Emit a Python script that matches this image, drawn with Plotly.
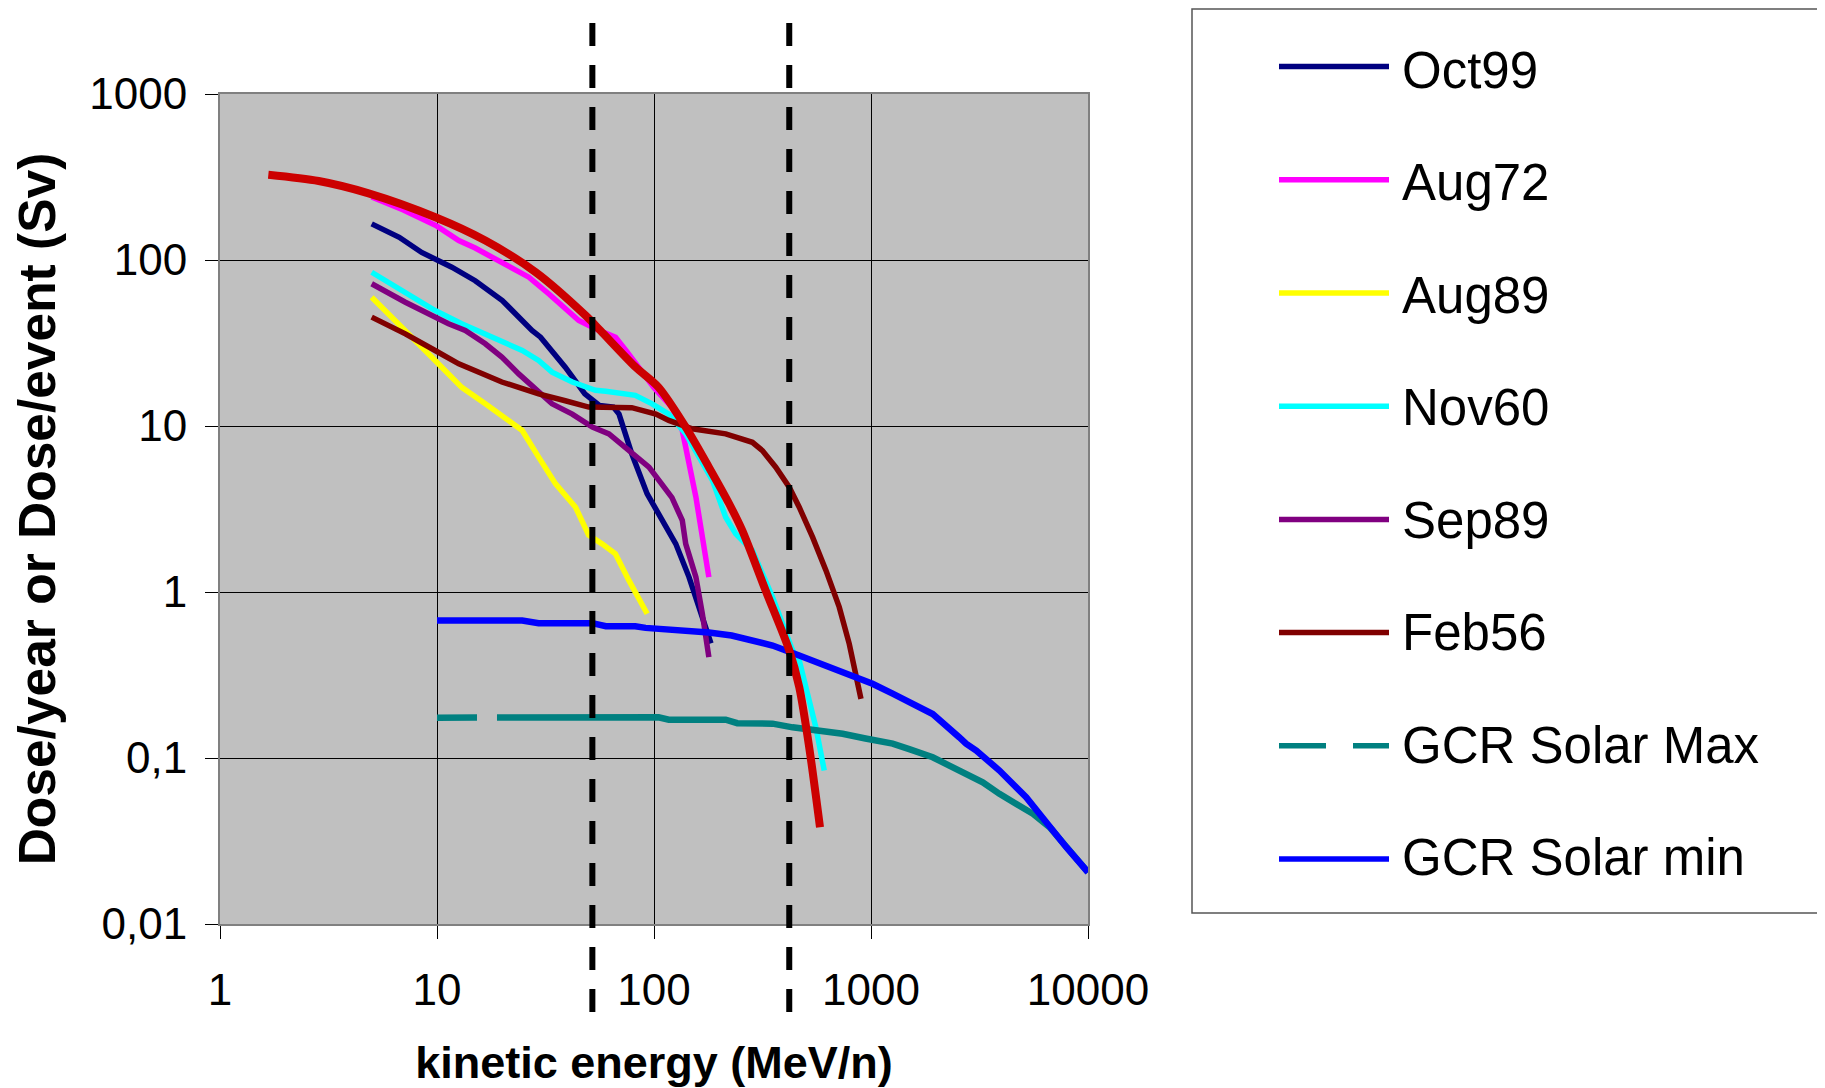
import plotly.graph_objects as go

# ---------------- data ----------------
OCT99_X = [5, 6.7, 8.5, 11.7, 15, 20, 27.4, 30, 39, 48, 56, 65, 69, 79, 93, 109, 126, 145, 161, 183]
OCT99_Y = [165, 137, 111, 90.5, 75, 57, 37.6, 34.3, 22.6, 15.6, 13.3, 13.0, 11.8, 6.8, 3.9, 2.75, 1.95, 1.23, 0.81, 0.49]

AUG72_X = [5, 7, 10, 12.6, 15, 20, 26.5, 33, 45, 55, 66.5, 75, 85, 100, 117, 121, 135, 156, 179]
AUG72_Y = [240, 200, 160, 131, 118, 97, 78.8, 62, 43.2, 38, 34.3, 28, 22.6, 17, 13.6, 13.0, 9.4, 3.73, 1.23]

AUG89_X = [5, 6.7, 8.2, 9.8, 13, 16.7, 21.4, 24.7, 29.4, 35.2, 43.5, 50, 57.6, 66.4, 76.7, 82.3, 93]
AUG89_Y = [59.7, 41.3, 31.3, 24.8, 17.1, 13.6, 10.8, 9.4, 6.49, 4.48, 3.24, 2.2, 1.95, 1.70, 1.17, 0.976, 0.74]

NOV60_X = [5, 7.15, 9.8, 13, 16.7, 20.7, 24.7, 29.4, 33.9, 42, 53.7, 60, 82, 98, 117, 140, 186, 214, 238, 284, 352, 435, 467, 557, 609]
NOV60_Y = [84.4, 64, 49.6, 41.3, 35.9, 32, 28.5, 24.8, 21.1, 18.4, 16.4, 16.2, 15.3, 13.6, 11.8, 9.0, 4.7, 2.82, 2.24, 1.78, 0.93, 0.445, 0.387, 0.153, 0.084]

SEP89_X = [5, 7.15, 11.3, 13.5, 16.7, 19.9, 23.8, 28.5, 33.9, 42, 52, 62, 76.7, 94.8, 121, 135, 140, 156, 167, 179]
SEP89_Y = [71.9, 55.7, 41.3, 37.6, 31.3, 26, 20.6, 16.8, 13.6, 11.8, 9.84, 8.97, 7.11, 5.65, 3.7, 2.7, 1.95, 1.23, 0.74, 0.405]

FEB56_X = [5, 7.15, 9.8, 12.6, 15.6, 19.9, 23.8, 29.4, 39, 50, 79, 102, 117, 150, 214, 238, 284, 316, 364, 420, 467, 538, 620, 714, 794, 899]
FEB56_Y = [45.3, 35.9, 28.5, 23.7, 21.1, 18.4, 17.1, 15.6, 14.2, 13.0, 12.9, 11.8, 10.8, 9.62, 8.97, 8.56, 7.98, 7.11, 5.65, 4.28, 3.24, 2.14, 1.35, 0.81, 0.487, 0.227]

GCRMAX_X = [10, 20, 50, 105, 117, 214, 242, 352, 435, 538, 740, 943, 1258, 1500, 1925, 2296, 2743, 3273, 3908, 4667, 5573, 6653, 7943, 10000]
GCRMAX_Y = [0.175, 0.175, 0.176, 0.176, 0.170, 0.170, 0.162, 0.161, 0.153, 0.148, 0.140, 0.131, 0.122, 0.113, 0.101, 0.090, 0.080, 0.0714, 0.0608, 0.053, 0.0461, 0.0383, 0.029, 0.0205]

GCRMIN_X = [10, 24.7, 29.4, 52, 60, 82, 91.5, 112, 145, 179, 228, 304, 352, 467, 620, 794, 1016, 1258, 1352, 1671, 1925, 2556, 2743, 3055, 3908, 5188, 6653, 7943, 10000]
GCRMIN_Y = [0.673, 0.673, 0.649, 0.649, 0.622, 0.622, 0.608, 0.600, 0.586, 0.57, 0.547, 0.498, 0.476, 0.414, 0.36, 0.314, 0.28, 0.244, 0.232, 0.202, 0.184, 0.133, 0.122, 0.111, 0.084, 0.058, 0.0383, 0.029, 0.0205]

FIT_X = [1.67, 2.85, 4.84, 9.83, 16.7, 28.5, 48.4, 56.6, 82.3, 105, 140, 179, 222, 255, 327, 420, 467, 519, 582]
FIT_Y = [326, 299, 252, 181, 131, 84.4, 46.3, 37.6, 22.6, 17.1, 9.84, 5.65, 3.40, 2.35, 1.02, 0.445, 0.267, 0.116, 0.0383]

ENERGY_MARKERS = [52, 420]

X_TICKS = [1, 10, 100, 1000, 10000]
X_TICK_TEXT = ["1", "10", "100", "1000", "10000"]
Y_TICKS = [0.01, 0.1, 1, 10, 100, 1000]
Y_TICK_TEXT = ["0,01", "0,1", "1", "10", "100", "1000"]

SERIES_NAMES = ["Oct99", "Aug72", "Aug89", "Nov60", "Sep89", "Feb56", "GCR Solar Max", "GCR Solar min"]
SERIES_COLORS = ["#000080", "#FF00FF", "#FFFF00", "#00FFFF", "#800080", "#800000", "#008080", "#0000FF"]
SERIES_X = [OCT99_X, AUG72_X, AUG89_X, NOV60_X, SEP89_X, FEB56_X, GCRMAX_X, GCRMIN_X]
SERIES_Y = [OCT99_Y, AUG72_Y, AUG89_Y, NOV60_Y, SEP89_Y, FEB56_Y, GCRMAX_Y, GCRMIN_Y]

FONT = "Liberation Sans, Arial, sans-serif"

# ---------------- geometry (page has an 8px body margin) ----------------
OFF = 8
W, H = 1825 - OFF, 1088 - OFF
L, T = 220 - OFF, 94 - OFF
PW, PH = 868, 830
R = W - L - PW
B = H - T - PH


def px2paper_x(px):
    return (px - OFF - L) / PW


def px2paper_y(py):
    return (H - B - (py - OFF)) / PH


fig = go.Figure()

widths = [5.5, 5.5, 5.5, 5.5, 5.5, 5.5, 6.5, 6.5]
for name, color, xs, ys, w in zip(SERIES_NAMES, SERIES_COLORS, SERIES_X, SERIES_Y, widths):
    dash = "40px,20px,4000px" if name == "GCR Solar Max" else "solid"
    fig.add_trace(go.Scatter(x=xs, y=ys, mode="lines", name=name,
                             line=dict(color=color, width=w, dash=dash),
                             showlegend=False))

fig.add_trace(go.Scatter(x=FIT_X, y=FIT_Y, mode="lines", name="Fit",
                         line=dict(color="#CC0000", width=8, shape="spline", smoothing=0.8),
                         showlegend=False))

shapes = []
for xm in ENERGY_MARKERS:
    shapes.append(dict(type="line", xref="x", yref="paper", x0=xm, x1=xm,
                       y0=px2paper_y(23), y1=px2paper_y(1013),
                       line=dict(color="black", width=6, dash="23px,19px"), layer="above"))

# legend box
shapes.append(dict(type="rect", xref="paper", yref="paper",
                   x0=px2paper_x(1192), x1=px2paper_x(1840),
                   y0=px2paper_y(913), y1=px2paper_y(9),
                   line=dict(color="#555555", width=1.5), fillcolor="rgba(0,0,0,0)"))

annotations = []
for i, (name, color) in enumerate(zip(SERIES_NAMES, SERIES_COLORS)):
    yc = 66.6 + i * 113.2
    yt = 70.0 + i * 112.5
    dash = "47px,27px" if name == "GCR Solar Max" else "solid"
    shapes.append(dict(type="line", xref="paper", yref="paper",
                       x0=px2paper_x(1279), x1=px2paper_x(1389),
                       y0=px2paper_y(yc), y1=px2paper_y(yc),
                       line=dict(color=color, width=5.5, dash=dash)))
    annotations.append(dict(xref="paper", yref="paper", x=px2paper_x(1400), y=px2paper_y(yt),
                            text=name, showarrow=False, xanchor="left", yanchor="middle",
                            font=dict(family=FONT, size=51, color="black")))

fig.update_layout(
    width=W, height=H,
    margin=dict(l=L, r=R, t=T, b=B, autoexpand=False),
    paper_bgcolor="white", plot_bgcolor="#C0C0C0",
    shapes=shapes, annotations=annotations,
    showlegend=False,
    font=dict(family=FONT, color="black"),
)

fig.update_xaxes(type="log", range=[0, 4], tickvals=X_TICKS, ticktext=X_TICK_TEXT,
                 ticks="outside", ticklen=13, tickcolor="black", tickwidth=1,
                 showgrid=True, gridcolor="black", gridwidth=1,
                 showline=True, linecolor="#808080", linewidth=2, mirror=True,
                 zeroline=False, automargin=False, ticklabelstandoff=13,
                 tickfont=dict(family=FONT, size=44, color="black"),
                 title=dict(text="<b>kinetic energy (MeV/n)</b>", standoff=34,
                            font=dict(family=FONT, size=45, color="black")))

fig.update_yaxes(type="log", range=[-2, 3], tickvals=Y_TICKS, ticktext=Y_TICK_TEXT,
                 ticks="outside", ticklen=13, tickcolor="black", tickwidth=1,
                 showgrid=True, gridcolor="black", gridwidth=1,
                 showline=True, linecolor="#808080", linewidth=2, mirror=True,
                 zeroline=False, automargin=False, ticklabelstandoff=9,
                 tickfont=dict(family=FONT, size=44, color="black"),
                 title=dict(text="<b>Dose/year or Dose/event (Sv)</b>", standoff=20,
                            font=dict(family=FONT, size=51.5, color="black")))

fig.write_html("out.html")
